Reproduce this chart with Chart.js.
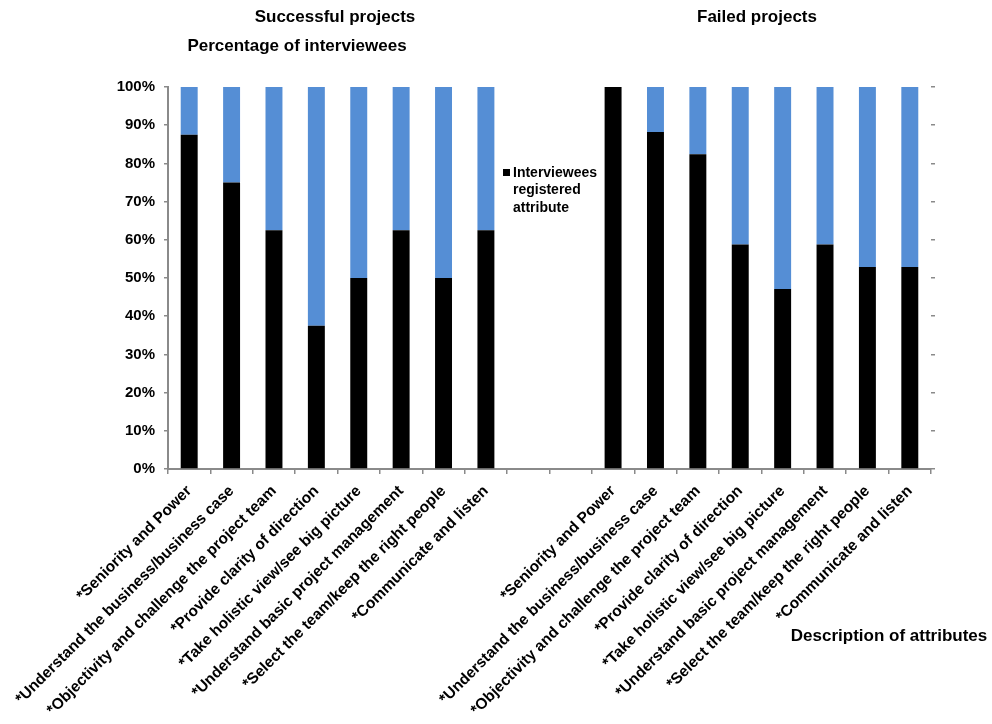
<!DOCTYPE html>
<html>
<head>
<meta charset="utf-8">
<script src="https://cdn.jsdelivr.net/npm/chart.js@4.4.1/dist/chart.umd.min.js"></script>
<style>
    html, body { margin: 0; padding: 0; background: #fff; }
</style>
</head>
<body>
<canvas id="myChart" width="992" height="724"></canvas>
<script>
// Data
const categories = [
    '*Seniority and Power',
    '*Understand the business/business case',
    '*Objectivity and challenge the project team',
    '*Provide clarity of direction',
    '*Take holistic view/see big picture',
    '*Understand basic project management',
    '*Select the team/keep the right people',
    '*Communicate and listen',
    '',
    '',
    '*Seniority and Power',
    '*Understand the business/business case',
    '*Objectivity and challenge the project team',
    '*Provide clarity of direction',
    '*Take holistic view/see big picture',
    '*Understand basic project management',
    '*Select the team/keep the right people',
    '*Communicate and listen'
];
const registered = [87.5, 75, 62.5, 37.5, 50, 62.5, 50, 62.5, null, null, 100, 88.2, 82.4, 58.8, 47.1, 58.8, 52.9, 52.9];
const notRegistered = [12.5, 25, 37.5, 62.5, 50, 37.5, 50, 37.5, null, null, 0, 11.8, 17.6, 41.2, 52.9, 41.2, 47.1, 47.1];
const yTickStep = 10;

const boldFont = '"Liberation Sans", Arial, sans-serif';
const axisGrey = '#8a8a8a';

// Texts drawn on the canvas (titles, axis names, legend)
const textPlugin = {
    id: 'texts',
    afterDraw(chart) {
        const ctx = chart.ctx;
        ctx.save();
        ctx.fillStyle = '#000';
        ctx.font = 'bold 17px ' + boldFont;
        ctx.textAlign = 'center';
        ctx.textBaseline = 'middle';
        ctx.fillText('Successful projects', 335, 17);
        ctx.fillText('Failed projects', 757, 17);
        ctx.fillText('Percentage of interviewees', 297, 46);
        ctx.fillText('Description of attributes', 889, 636);

        // legend
        ctx.fillRect(503, 169, 7, 7);
        ctx.font = 'bold 14px ' + boldFont;
        ctx.textAlign = 'left';
        ['Interviewees', 'registered', 'attribute'].forEach(function(line, i) {
            ctx.fillText(line, 513, 173 + i * 17.5);
        });
        ctx.restore();
    }
};

const config = {
    type: 'bar',
    data: {
        labels: categories,
        datasets: [{
            label: 'Interviewees registered attribute',
            data: registered,
            backgroundColor: '#000000',
            categoryPercentage: 1,
            barPercentage: 0.4
        }, {
            label: 'Not registered',
            data: notRegistered,
            backgroundColor: '#558ed5',
            categoryPercentage: 1,
            barPercentage: 0.4
        }]
    },
    options: {
        responsive: false,
        animation: false,
        layout: { padding: { top: 87, left: 0, right: 0, bottom: 0 } },
        plugins: {
            legend: { display: false },
            tooltip: { enabled: false }
        },
        scales: {
            x: {
                stacked: true,
                grid: { drawOnChartArea: false, color: axisGrey, lineWidth: 1.5, tickLength: 5 },
                border: { color: axisGrey, width: 2 },
                ticks: {
                    autoSkip: false,
                    maxRotation: 45,
                    minRotation: 45,
                    color: '#000',
                    padding: 8,
                    font: { family: boldFont, size: 15.5, weight: 'bold' }
                },
                afterFit: function(scale) { scale.height = 724 - 469; }
            },
            y: {
                stacked: true,
                min: 0,
                max: 100,
                grid: { drawOnChartArea: false, color: axisGrey, lineWidth: 1.5, tickLength: 4 },
                border: { color: axisGrey, width: 2 },
                ticks: {
                    stepSize: yTickStep,
                    color: '#000',
                    padding: 9,
                    font: { family: boldFont, size: 15, weight: 'bold' },
                    callback: function(v) { return v + '%'; }
                },
                afterFit: function(scale) { scale.width = 168; }
            },
            y1: {
                position: 'right',
                min: 0,
                max: 100,
                grid: { drawOnChartArea: false, color: axisGrey, lineWidth: 1.5, tickLength: 4 },
                border: { display: false },
                ticks: { display: false, stepSize: yTickStep },
                afterFit: function(scale) { scale.width = 992 - 931; }
            }
        }
    },
    plugins: [textPlugin]
};

const chart = new Chart(document.getElementById('myChart'), config);
</script>
</body>
</html>
